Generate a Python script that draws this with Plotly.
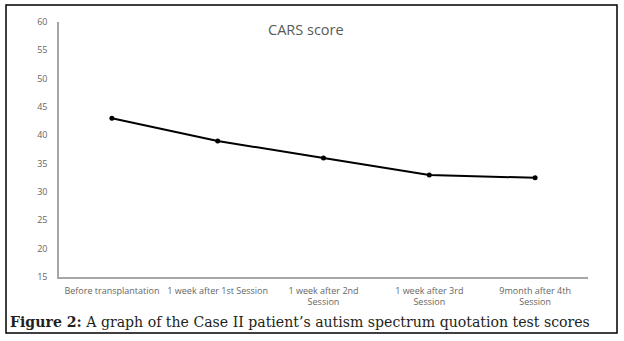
import plotly.graph_objects as go

categories = ["Before transplantation", "1 week after 1st Session",
              "1 week after 2nd<br>Session", "1 week after 3rd<br>Session",
              "9month after 4th<br>Session"]
scores = [43, 39, 36, 33, 32.5]
y_ticks = [15, 20, 25, 30, 35, 40, 45, 50, 55, 60]

W, H = 624, 341
L, R, T, B = 59, 36, 22, 64
pw, ph = W - L - R, H - T - B

def px(x):
    return (x - L) / pw

def py(y):
    return (H - B - y) / ph

fig = go.Figure()
fig.add_trace(go.Scatter(
    x=list(range(len(categories))), y=scores, mode="lines+markers",
    line=dict(color="black", width=2),
    marker=dict(color="black", size=5),
    showlegend=False,
))

fig.update_layout(
    width=W, height=H,
    margin=dict(l=L, r=R, t=T, b=B),
    paper_bgcolor="white", plot_bgcolor="white",
    font=dict(family="Open Sans, sans-serif", color="#666666", size=9),
    xaxis=dict(
        tickmode="array", tickvals=list(range(len(categories))),
        ticktext=categories, range=[-0.5, len(categories) - 0.5],
        showgrid=False, zeroline=False, showline=True,
        linecolor="#a6a6a6", linewidth=1.5, ticks="",
        tickfont=dict(size=9, color="#666666"), ticklabelstandoff=4,
    ),
    yaxis=dict(
        range=[15, 60], tickvals=y_ticks, showgrid=False, zeroline=False,
        showline=True, linecolor="#a6a6a6", linewidth=1.5, ticks="",
        tickfont=dict(size=9, color="#666666"), ticklabelstandoff=8,
    ),
    annotations=[
        dict(text="CARS score", x=px(306), y=py(29), xref="paper", yref="paper",
             xanchor="center", yanchor="middle",
             showarrow=False, font=dict(size=14.5, color="#595959",
                                        family="Open Sans, sans-serif")),
        dict(text="<b>Figure 2:</b> A graph of the Case II patient’s autism spectrum quotation test scores",
             x=px(8), y=py(322), xref="paper", yref="paper", xanchor="left",
             yanchor="middle", showarrow=False,
             font=dict(size=14.1, color="#231f20", family="DejaVu Serif, serif")),
    ],
    shapes=[
        dict(type="rect", xref="paper", yref="paper",
             x0=px(6), x1=px(617), y0=py(5), y1=py(333),
             line=dict(color="black", width=1.5), fillcolor="rgba(0,0,0,0)"),
    ],
)

fig.write_html("out.html")
